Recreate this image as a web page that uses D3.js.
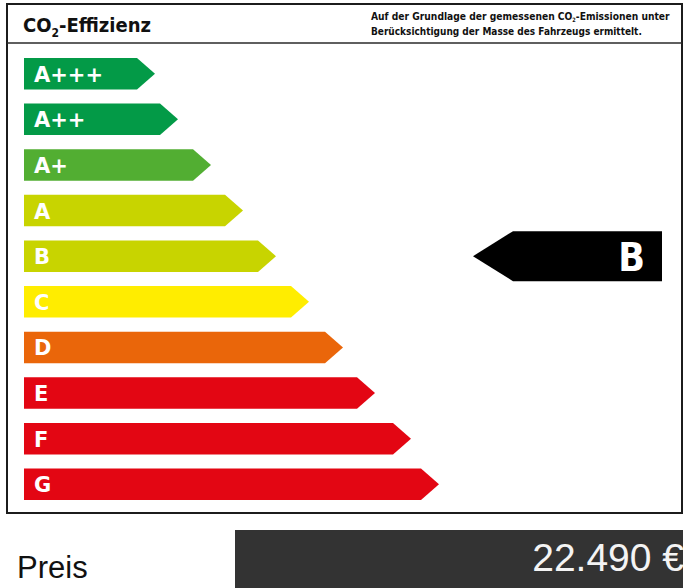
<!DOCTYPE html>
<html lang="de">
<head>
<meta charset="UTF-8">
<script src="https://d3js.org/d3.v7.min.js"></script>
<title>CO2-Effizienz</title>
<style>
    body { margin: 0; background: #fff; }
    svg { display: block; }
</style>
</head>
<body>
<div id="chart"></div>
<script>
    // efficiency classes, top to bottom
    const classes = ["A+++", "A++", "A+", "A", "B", "C", "D", "E", "F", "G"];
    // arrow length per class (to the tip)
    const lengths = [131, 154, 187, 219, 252, 285, 319, 351, 387, 415];
    const colors = ["#039a47", "#039a47", "#52ae32", "#c8d400", "#c8d400", "#ffed00", "#ea660a", "#e30613", "#e30613", "#e30613"];
    const currentClass = "B";
    const priceLabel = "Preis";
    const priceValue = "22.490 €";

    const width = 683, height = 588;

    const svg = d3.select("#chart").append("svg")
        .attr("width", width)
        .attr("height", height);

    const x = d3.scaleLinear().domain([0, 660]).range([24, 684]);
    const y = d3.scaleBand().domain(classes).range([58, 500]).paddingInner(0.31).paddingOuter(0);

    // frame + header
    svg.append("rect")
        .attr("x", 7).attr("y", 4)
        .attr("width", 675).attr("height", 509)
        .attr("fill", "none")
        .attr("stroke", "#1c1c1c")
        .attr("stroke-width", 2);
    svg.append("line")
        .attr("x1", 7).attr("x2", 682)
        .attr("y1", 43).attr("y2", 43)
        .attr("stroke", "#2a2a2a")
        .attr("stroke-width", 1.5);

    const title = svg.append("text")
        .attr("x", 23).attr("y", 32)
        .attr("font-family", "DejaVu Sans Condensed, DejaVu Sans")
        .attr("font-weight", "bold")
        .attr("font-size", 20)
        .attr("fill", "#111");
    title.append("tspan").text("CO");
    title.append("tspan").attr("font-size", 12).attr("dy", 5).text("2");
    title.append("tspan").attr("dy", -5).text("-Effizienz");

    // subtitle, squeezed horizontally to the reference width
    const fitLine = (yPos, targetW, build) => {
        const g = svg.append("g");
        const t = g.append("text")
            .attr("font-family", "DejaVu Sans Condensed, DejaVu Sans")
            .attr("font-weight", "bold")
            .attr("font-size", 11)
            .attr("fill", "#111");
        build(t);
        const w = t.node().getComputedTextLength();
        g.attr("transform", `translate(371,${yPos}) scale(${targetW / w},1)`);
    };
    fitLine(20, 299, t => {
        t.append("tspan").text("Auf der Grundlage der gemessenen CO");
        t.append("tspan").attr("font-size", 6).attr("dy", 2).text("2");
        t.append("tspan").attr("dy", -2).text("-Emissionen unter");
    });
    fitLine(35, 271, t => t.text("Berücksichtigung der Masse des Fahrzeugs ermittelt."));

    // class arrows
    const tip = 18;
    const arrowPath = (i) => {
        const c = classes[i];
        const x0 = x(0), x1 = x(lengths[i]);
        const y0 = y(c), y1 = y(c) + y.bandwidth(), ym = y0 + y.bandwidth() / 2;
        return `M${x0},${y0}L${x1 - tip},${y0}L${x1},${ym}L${x1 - tip},${y1}L${x0},${y1}Z`;
    };

    const rows = svg.append("g").selectAll("g")
        .data(classes)
        .join("g");

    rows.append("path")
        .attr("d", (d, i) => arrowPath(i))
        .attr("fill", (d, i) => colors[i]);

    rows.append("text")
        .attr("x", x(0) + 10)
        .attr("y", d => y(d) + y.bandwidth() / 2 + 8)
        .attr("font-family", "DejaVu Sans")
        .attr("font-weight", "bold")
        .attr("font-size", 21)
        .attr("fill", "#fff")
        .text(d => d);

    // current class indicator
    const cy = y(currentClass) + y.bandwidth() / 2;
    const ah = 25;
    svg.append("path")
        .attr("d", `M473,${cy}L513,${cy - ah}L662,${cy - ah}L662,${cy + ah}L513,${cy + ah}Z`)
        .attr("fill", "#000");
    svg.append("text")
        .attr("x", 645).attr("y", cy + 15)
        .attr("text-anchor", "end")
        .attr("font-family", "DejaVu Sans Condensed, DejaVu Sans")
        .attr("font-weight", "bold")
        .attr("font-size", 39)
        .attr("fill", "#fff")
        .text(currentClass);

    // price
    svg.append("text")
        .attr("x", 17).attr("y", 578)
        .attr("font-family", "Liberation Sans, Arial")
        .attr("font-size", 31)
        .attr("fill", "#111")
        .text(priceLabel);
    svg.append("rect")
        .attr("x", 235).attr("y", 530)
        .attr("width", 448).attr("height", 58)
        .attr("fill", "#333");
    svg.append("text")
        .attr("x", 684).attr("y", 571)
        .attr("text-anchor", "end")
        .attr("font-family", "Liberation Sans, Arial")
        .attr("font-size", 39)
        .attr("fill", "#f4f4f4")
        .text(priceValue);
</script>
</body>
</html>
